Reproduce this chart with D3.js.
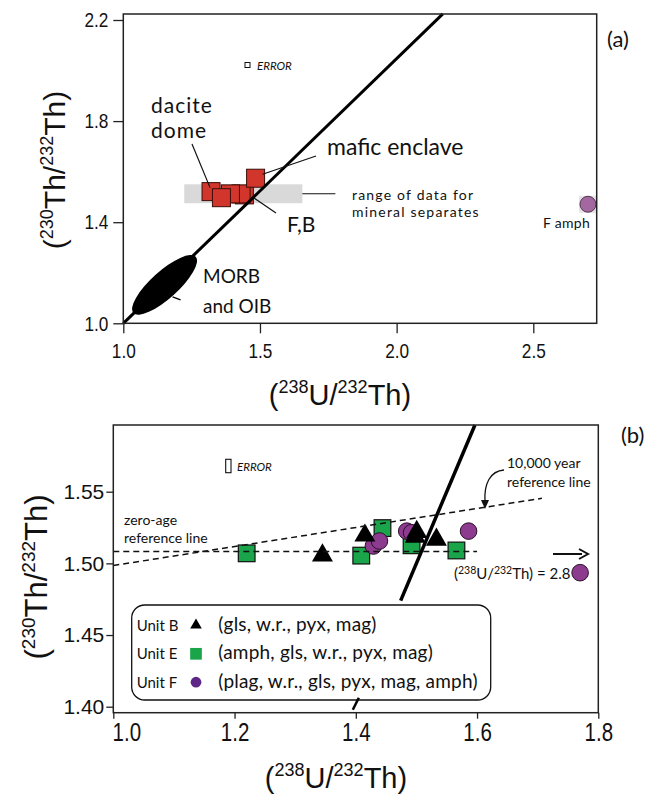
<!DOCTYPE html>
<html>
<head>
<meta charset="utf-8">
<script src="https://cdn.jsdelivr.net/npm/d3@7"></script>
<style>
  html, body { margin: 0; padding: 0; background: #fff; }
  svg { display: block; }
</style>
</head>
<body>
<svg id="chart" width="653" height="795"></svg>
<script>
// ---------------- data: panel (a), whole rock ----------------
const xTicksA = [1.0, 1.5, 2.0, 2.5];
const yTicksA = [1.0, 1.4, 1.8, 2.2];
// dacite dome samples (draw order: back to front)
const daciteU  = [1.443, 1.431, 1.392, 1.321, 1.359];
const daciteTh = [1.508, 1.512, 1.512, 1.521, 1.497];
// mafic enclave
const enclaveU  = [1.484];
const enclaveTh = [1.574];
// equiline end points
const equiU  = [1.0, 2.169];
const equiTh = [1.0, 2.224];
// range of mineral separates (grey band)
const sepU  = [1.223, 1.655];
const sepTh = [1.475, 1.550];
// MORB / OIB field centre
const morbU = 1.151, morbTh = 1.152;
// unit F amphibole, shown at the right edge of the plot
const amphA = { u: 2.8, th: 1.471 };

// ---------------- data: panel (b), mineral separates ----------------
const xTicksB = [1.0, 1.2, 1.4, 1.6, 1.8];
const yTicksB = [1.40, 1.45, 1.50, 1.55];
const unitBU  = [1.345, 1.415, 1.498, 1.5005, 1.533];
const unitBTh = [1.5056, 1.5194, 1.5186, 1.5220, 1.5165];
const unitEU  = [1.220, 1.409, 1.444, 1.492, 1.566];
const unitETh = [1.5070, 1.5054, 1.5246, 1.5126, 1.5090];
const unitFU  = [1.484, 1.492, 1.429, 1.439, 1.586];
const unitFTh = [1.5225, 1.5214, 1.5121, 1.5156, 1.5225];
const amphB = { u: 2.8, th: 1.4935 };
// reference lines
const zeroAgeU  = [1.0, 1.60];
const zeroAgeTh = [1.5082, 1.5082];
const tenKyrU   = [1.0, 1.707];
const tenKyrTh  = [1.4985, 1.5454];
const equiB     = [1.474, 1.5965];

const legendRows = [
  { unit: "Unit B", minerals: "(gls, w.r., pyx, mag)", shape: "triangle", fill: "#000" },
  { unit: "Unit E", minerals: "(amph, gls, w.r., pyx, mag)", shape: "square", fill: "#1aa54a" },
  { unit: "Unit F", minerals: "(plag, w.r., gls, pyx, mag, amph)", shape: "circle", fill: "#5e2787" }
];

// ---------------- styling ----------------
const SANS  = "'Liberation Sans', Arial, Helvetica, sans-serif";
const HUMAN = "Lato, 'Open Sans', sans-serif";
const RED = "#d2352c", GREEN = "#1aa54a", PURPLE = "#8d3b8f", MAUVE = "#a3689f";

const svg = d3.select("#chart");

// "(^aX/^bY)" isotope ratio label
function ratioLabel(parent, num, den, main, sup) {
  const rise = Math.round(main * 0.4);
  const t = parent.append("text")
    .attr("font-family", SANS).attr("font-size", main).attr("fill", "#111");
  t.append("tspan").text("(");
  t.append("tspan").attr("font-size", sup).attr("dy", -rise).text(num[0]);
  t.append("tspan").attr("dy", rise).text(num[1] + "/");
  t.append("tspan").attr("font-size", sup).attr("dy", -rise).text(den[0]);
  t.append("tspan").attr("dy", rise).text(den[1] + ")");
  return t;
}

function styleAxis(g, size, sx, narrowX) {
  g.select(".domain").remove();
  g.selectAll(".tick line").attr("stroke", "#222").attr("stroke-width", 1.3);
  g.selectAll(".tick text")
    .attr("font-family", SANS).attr("font-size", size).attr("fill", "#111")
    .attr("transform", `scale(${sx},1)`);
  if (narrowX !== undefined) g.selectAll(".tick text").attr("x", narrowX / sx);
}

function note(g, x, y, txt, size, opts = {}) {
  return g.append("text").attr("x", x).attr("y", y)
    .attr("font-family", HUMAN).attr("font-size", size)
    .attr("font-style", opts.italic ? "italic" : "normal")
    .attr("letter-spacing", opts.ls || 0)
    .attr("fill", "#111").text(txt);
}

const line = d3.line();

// =====================================================================
// Panel (a)
// =====================================================================
const A = { left: 123.3, right: 596.7, top: 14, bottom: 323.3 };
const xA = d3.scaleLinear().domain([1.0, 2.5]).range([123.3, 533.3]);
const yA = d3.scaleLinear().domain([1.0, 2.2]).range([323.3, 20]);
const gA = svg.append("g");

// grey band: mineral separate range
gA.append("rect")
  .attr("x", xA(sepU[0])).attr("y", yA(sepTh[1]))
  .attr("width", xA(sepU[1]) - xA(sepU[0])).attr("height", yA(sepTh[0]) - yA(sepTh[1]))
  .attr("fill", "#d9d9d9");
const bandMid = yA((sepTh[0] + sepTh[1]) / 2);
gA.append("line")
  .attr("x1", xA(sepU[1])).attr("x2", xA(sepU[1]) + 33)
  .attr("y1", bandMid).attr("y2", bandMid)
  .attr("stroke", "#111").attr("stroke-width", 1.2);

// MORB and OIB field
const mx = xA(morbU), my = yA(morbTh);
gA.append("ellipse")
  .attr("cx", mx).attr("cy", my).attr("rx", 42).attr("ry", 13.5)
  .attr("transform", `rotate(-42 ${mx} ${my})`)
  .attr("fill", "#000");
gA.append("line")
  .attr("x1", mx + 8).attr("y1", my + 12).attr("x2", mx + 16).attr("y2", my + 15)
  .attr("stroke", "#000").attr("stroke-width", 1.5);

// dacite dome and mafic enclave squares
const sq = 18;
const daciteData = daciteU.map((u, i) => [u, daciteTh[i]]);
const enclaveData = enclaveU.map((u, i) => [u, enclaveTh[i]]);
gA.selectAll("rect.wr").data(daciteData.concat(enclaveData)).join("rect")
  .attr("class", "wr")
  .attr("x", d => xA(d[0]) - sq / 2).attr("y", d => yA(d[1]) - sq / 2)
  .attr("width", sq).attr("height", sq)
  .attr("fill", RED).attr("stroke", "#3b0e09").attr("stroke-width", 1);

// equiline
gA.append("path")
  .attr("d", line(equiU.map((u, i) => [xA(u), yA(equiTh[i])])))
  .attr("stroke", "#000").attr("stroke-width", 3).attr("fill", "none");

// amphibole (off scale, drawn at 2.70)
const amphAx = xA(Math.min(amphA.u, 2.70)), amphAy = yA(amphA.th);
gA.append("rect").attr("x", amphAx - 9).attr("y", amphAy - 8.5)
  .attr("width", 18).attr("height", 17).attr("fill", "#e4e4e4");
gA.append("circle").attr("cx", amphAx).attr("cy", amphAy).attr("r", 8)
  .attr("fill", MAUVE).attr("stroke", "#3a2038").attr("stroke-width", 0.8);

// leader lines
const d0 = daciteData[3];
gA.append("line").attr("x1", 192).attr("y1", 144)
  .attr("x2", xA(d0[0]) - 1).attr("y2", yA(d0[1]) - 4)
  .attr("stroke", "#111").attr("stroke-width", 1.2);
gA.append("line").attr("x1", 316).attr("y1", 156)
  .attr("x2", xA(enclaveData[0][0]) + 7).attr("y2", yA(enclaveData[0][1]) - 4)
  .attr("stroke", "#111").attr("stroke-width", 1.2);
gA.append("line").attr("x1", xA(daciteData[0][0]) + 8).attr("y1", yA(daciteData[0][1]) + 2)
  .attr("x2", 276).attr("y2", 213)
  .attr("stroke", "#111").attr("stroke-width", 1.2);

// axes
gA.append("g").attr("transform", `translate(0,${A.bottom})`)
  .call(d3.axisBottom(xA).tickValues(xTicksA).tickFormat(d3.format(".1f")).tickSize(10).tickPadding(10))
  .call(g => styleAxis(g, 21, 0.82));
gA.append("g").attr("transform", `translate(${A.left},0)`)
  .call(d3.axisLeft(yA).tickValues(yTicksA).tickFormat(d3.format(".1f")).tickSize(10).tickPadding(5))
  .call(g => styleAxis(g, 21, 0.82, -15));

// frame
gA.append("rect")
  .attr("x", A.left).attr("y", A.top)
  .attr("width", A.right - A.left).attr("height", A.bottom - A.top)
  .attr("fill", "none").attr("stroke", "#222").attr("stroke-width", 1.5);

// axis titles
ratioLabel(gA, ["238", "U"], ["232", "Th"], 29, 18)
  .attr("x", 340).attr("y", 405).attr("text-anchor", "middle");
ratioLabel(gA, ["230", "Th"], ["232", "Th"], 30, 18)
  .attr("text-anchor", "middle").attr("transform", "translate(65,170) rotate(-90)");

// annotations
note(gA, 151, 112.5, "dacite", 21, { ls: 1 });
note(gA, 151, 138, "dome", 21, { ls: 1 });
note(gA, 327, 155, "mafic enclave", 23);
note(gA, 287, 232, "F,B", 21);
note(gA, 203, 283, "MORB", 19);
note(gA, 203, 313, "and OIB", 19);
note(gA, 352, 200, "range of data for", 14, { ls: 1.2 });
note(gA, 352, 217, "mineral separates", 14, { ls: 1.2 });
note(gA, 543, 228, "F amph", 14, { ls: 0.3 });
note(gA, 607, 47, "(a)", 22);
gA.append("rect").attr("x", 245).attr("y", 62.5).attr("width", 5).attr("height", 5)
  .attr("fill", "none").attr("stroke", "#111").attr("stroke-width", 1);
note(gA, 257, 69.5, "ERROR", 11.5, { italic: true });

// =====================================================================
// Panel (b)
// =====================================================================
const B = { left: 113.3, right: 598.3, top: 425, bottom: 712.7 };
const xB = d3.scaleLinear().domain([1.0, 1.8]).range([113.3, 598.3]);
const yB = d3.scaleLinear().domain([1.40, 1.55]).range([706.7, 491.7]);
const gB = svg.append("g");

// legend box (behind everything else)
gB.append("rect").attr("x", 131.7).attr("y", 605).attr("width", 359).attr("height", 95)
  .attr("rx", 13).attr("fill", "#fff").attr("stroke", "#111").attr("stroke-width", 1.3);

// Unit E squares
const sqB = 16.7;
gB.selectAll("rect.e").data(unitEU.map((u, i) => [u, unitETh[i]])).join("rect")
  .attr("class", "e")
  .attr("x", d => xB(d[0]) - sqB / 2).attr("y", d => yB(d[1]) - sqB / 2)
  .attr("width", sqB).attr("height", sqB)
  .attr("fill", GREEN).attr("stroke", "#111").attr("stroke-width", 1.2);
// Unit F circles
gB.selectAll("circle.f").data(unitFU.map((u, i) => [u, unitFTh[i]])).join("circle")
  .attr("class", "f")
  .attr("cx", d => xB(d[0])).attr("cy", d => yB(d[1])).attr("r", 8.3)
  .attr("fill", PURPLE).attr("stroke", "#2a1029").attr("stroke-width", 1);
// Unit B triangles
const tri = d3.symbol().type(d3.symbolTriangle).size(190);
gB.selectAll("path.b").data(unitBU.map((u, i) => [u, unitBTh[i]])).join("path")
  .attr("class", "b").attr("d", tri)
  .attr("transform", d => `translate(${xB(d[0])},${yB(d[1])})`)
  .attr("fill", "#000");

// off-scale amphibole (drawn at 1.77)
const amphBx = xB(Math.min(amphB.u, 1.77)), amphBy = yB(amphB.th);
gB.append("circle").attr("cx", amphBx).attr("cy", amphBy).attr("r", 8.3)
  .attr("fill", PURPLE).attr("stroke", "#2a1029").attr("stroke-width", 1);

// dashed reference lines
[[zeroAgeU, zeroAgeTh], [tenKyrU, tenKyrTh]].forEach(([us, ths]) => {
  gB.append("path")
    .attr("d", line(us.map((u, i) => [xB(u), yB(ths[i])])))
    .attr("stroke", "#111").attr("stroke-width", 1.5).attr("stroke-dasharray", "6,4")
    .attr("fill", "none");
});

// equiline
gB.append("path")
  .attr("d", line(equiB.map(v => [xB(v), yB(v)])))
  .attr("stroke", "#000").attr("stroke-width", 3.5).attr("fill", "none");

// axes
gB.append("g").attr("transform", `translate(0,${B.bottom})`)
  .call(d3.axisBottom(xB).tickValues(xTicksB).tickFormat(d3.format(".1f")).tickSize(6).tickPadding(5))
  .call(g => styleAxis(g, 25, 0.82))
  .call(g => g.selectAll(".tick text").filter(d => d === 1.0).attr("x", 13 / 0.82));
gB.append("g").attr("transform", `translate(${B.left},0)`)
  .call(d3.axisLeft(yB).tickValues(yTicksB).tickFormat(d3.format(".2f")).tickSize(7).tickPadding(2))
  .call(g => styleAxis(g, 21, 1, -9));

// frame
gB.append("rect")
  .attr("x", B.left).attr("y", B.top)
  .attr("width", B.right - B.left).attr("height", B.bottom - B.top)
  .attr("fill", "none").attr("stroke", "#222").attr("stroke-width", 1.5);

// axis break mark
const bx = xB(1.4);
gB.append("line").attr("x1", bx - 3).attr("y1", B.bottom - 3).attr("x2", bx + 3).attr("y2", B.bottom - 15)
  .attr("stroke", "#000").attr("stroke-width", 2.5);

// axis titles
ratioLabel(gB, ["238", "U"], ["232", "Th"], 29, 18)
  .attr("x", 336).attr("y", 788).attr("text-anchor", "middle");
ratioLabel(gB, ["230", "Th"], ["232", "Th"], 31, 19)
  .attr("text-anchor", "middle").attr("transform", "translate(47,577) rotate(-90)");

// annotations
note(gB, 621, 443, "(b)", 22);
gB.append("rect").attr("x", 225.7).attr("y", 459.3).attr("width", 5.3).attr("height", 13.4)
  .attr("fill", "none").attr("stroke", "#111").attr("stroke-width", 1.1);
note(gB, 237, 470.5, "ERROR", 11.5, { italic: true });
note(gB, 124, 525, "zero-age", 14);
note(gB, 124, 543, "reference line", 14);
note(gB, 507, 468, "10,000 year", 14);
note(gB, 507, 486.5, "reference line", 14);

// curved pointer to the 10,000 year line
gB.append("path").attr("d", "M504,470 C490,471 484,484 485,501")
  .attr("fill", "none").attr("stroke", "#111").attr("stroke-width", 1.3);
gB.append("path").attr("d", "M481,500 L489,500 L485,509 Z").attr("fill", "#111");

// off-scale arrow and value label
gB.append("line").attr("x1", 553).attr("x2", 582).attr("y1", 554).attr("y2", 554)
  .attr("stroke", "#111").attr("stroke-width", 2);
gB.append("path").attr("d", "M579,549 L588,554 L579,559").attr("fill", "none")
  .attr("stroke", "#111").attr("stroke-width", 2);
{
  const t = gB.append("text").attr("x", 454).attr("y", 578.5)
    .attr("font-family", HUMAN).attr("font-size", 15).attr("fill", "#111");
  t.append("tspan").text("(");
  t.append("tspan").attr("font-size", 10.5).attr("dy", -5).text("238");
  t.append("tspan").attr("dy", 5).text("U/");
  t.append("tspan").attr("font-size", 10.5).attr("dy", -5).text("232");
  t.append("tspan").attr("dy", 5).text(`Th) = ${amphB.u}`);
}

// legend rows
const rowY = [630.7, 659.3, 687.7];
const legSym = {
  triangle: d3.symbol().type(d3.symbolTriangle).size(58),
  square: d3.symbol().type(d3.symbolSquare).size(137),
  circle: d3.symbol().type(d3.symbolCircle).size(90)
};
legendRows.forEach((r, i) => {
  note(gB, 136.7, rowY[i], r.unit, 15);
  gB.append("path").attr("d", legSym[r.shape]())
    .attr("transform", `translate(196,${rowY[i] - 5.5})`)
    .attr("fill", r.fill);
  note(gB, 218.3, rowY[i], r.minerals, 19, { ls: 0.2 });
});
</script>
</body>
</html>
